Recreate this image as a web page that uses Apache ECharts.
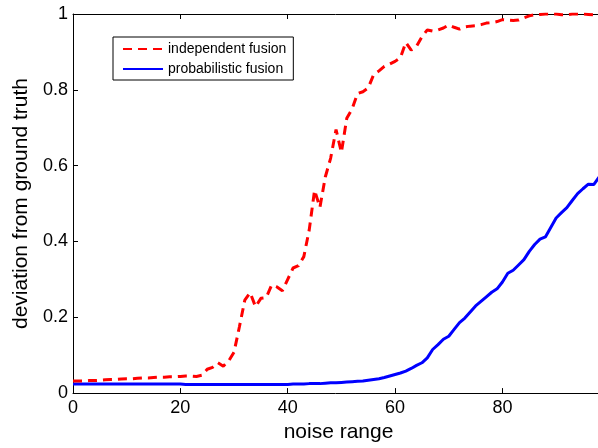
<!DOCTYPE html>
<html>
<head>
<meta charset="utf-8">
<script src="https://cdn.jsdelivr.net/npm/echarts@6/dist/echarts.min.js"></script>
<style>
  html, body { margin: 0; padding: 0; background: #fff; overflow: hidden; }
  #chart { width: 598px; height: 448px; }
</style>
</head>
<body>
<div id="chart"></div>
<script>
// noise range sampled at unit steps
const noiseRange = [
  0, 1, 2, 3, 4, 5, 6, 7, 8, 9, 10, 11, 12, 13, 14, 15, 16, 17, 18, 19,
  20, 21, 22, 23, 24, 25, 26, 27, 28, 29, 30, 31, 32, 33, 34, 35, 36, 37, 38, 39,
  40, 41, 42, 43, 44, 45, 46, 47, 48, 49, 50, 51, 52, 53, 54, 55, 56, 57, 58, 59,
  60, 61, 62, 63, 64, 65, 66, 67, 68, 69, 70, 71, 72, 73, 74, 75, 76, 77, 78, 79,
  80, 81, 82, 83, 84, 85, 86, 87, 88, 89, 90, 91, 92, 93, 94, 95, 96, 97, 98, 99, 100
];

// deviation from ground truth, independent fusion
const independentFusion = [
  0.032, 0.032, 0.032, 0.033, 0.033, 0.034, 0.035, 0.036, 0.036, 0.037,
  0.038, 0.038, 0.039, 0.040, 0.040, 0.041, 0.042, 0.042, 0.043, 0.043,
  0.044, 0.045, 0.045, 0.044, 0.047, 0.063, 0.068, 0.080, 0.071, 0.085,
  0.108, 0.175, 0.245, 0.265, 0.228, 0.250, 0.252, 0.285, 0.280, 0.270,
  0.300, 0.330, 0.336, 0.360, 0.430, 0.535, 0.490, 0.570, 0.620, 0.695,
  0.635, 0.725, 0.750, 0.790, 0.795, 0.805, 0.840, 0.850, 0.862, 0.868,
  0.875, 0.885, 0.925, 0.905, 0.915, 0.940, 0.958, 0.955, 0.958, 0.963,
  0.971, 0.965, 0.960, 0.966, 0.968, 0.969, 0.972, 0.976, 0.977, 0.980,
  0.985, 0.984, 0.983, 0.984, 0.990, 0.995, 0.998, 0.999, 1.000, 1.000,
  1.000, 0.998, 0.998, 1.000, 1.000, 1.000, 0.999, 0.998, 0.998, 0.999, 1.000
];

// deviation from ground truth, probabilistic fusion
const probabilisticFusion = [
  0.024, 0.024, 0.024, 0.024, 0.024, 0.024, 0.024, 0.024, 0.024, 0.024,
  0.024, 0.024, 0.024, 0.024, 0.024, 0.024, 0.024, 0.024, 0.024, 0.024,
  0.024, 0.023, 0.023, 0.023, 0.023, 0.023, 0.023, 0.023, 0.023, 0.023,
  0.023, 0.023, 0.023, 0.023, 0.023, 0.023, 0.023, 0.023, 0.023, 0.023,
  0.023, 0.024, 0.024, 0.024, 0.025, 0.025, 0.025, 0.026, 0.027, 0.027,
  0.028, 0.029, 0.030, 0.031, 0.032, 0.034, 0.036, 0.038, 0.041, 0.045,
  0.049, 0.053, 0.058, 0.065, 0.073, 0.080, 0.093, 0.115, 0.128, 0.142,
  0.150, 0.168, 0.186, 0.198, 0.214, 0.230, 0.242, 0.254, 0.266, 0.275,
  0.293, 0.316, 0.324, 0.338, 0.352, 0.374, 0.392, 0.406, 0.412, 0.437,
  0.462, 0.476, 0.489, 0.508, 0.526, 0.539, 0.551, 0.550, 0.570, 0.590, 0.605
];

const xTicks = [0, 20, 40, 60, 80];
const yTicks = [0, 0.2, 0.4, 0.6, 0.8, 1];
// the axes box is cut at the right edge of the canvas, a little short of 100
const xVisibleMax = 97.8;

const FONT = '"Liberation Sans", Arial, Helvetica, sans-serif';

function pairs(xs, ys) {
  return xs.map((x, i) => [x, ys[i]]);
}

const chart = echarts.init(document.getElementById('chart'), null, { renderer: 'canvas' });

const axisLine = { show: true, onZero: false, lineStyle: { color: '#000', width: 1 } };
const innerTicks = {
  show: true, inside: true, length: 5,
  customValues: xTicks,
  lineStyle: { color: '#000', width: 1 }
};

chart.setOption({
  animation: false,
  backgroundColor: '#fff',
  textStyle: { fontFamily: FONT },
  grid: { left: 73, top: 14, right: 0, bottom: 51, containLabel: false },
  legend: {
    left: 113,
    top: 37,
    orient: 'vertical',
    backgroundColor: '#fff',
    borderColor: '#000',
    borderWidth: 1,
    padding: [5, 7, 4, 9],
    itemWidth: 40,
    itemHeight: 14,
    itemGap: 6,
    // line samples only, no marker in the middle
    itemStyle: { opacity: 0, color: 'rgba(0,0,0,0)', borderWidth: 0 },
    textStyle: { fontFamily: FONT, fontSize: 14, color: '#000' },
    data: ['independent fusion', 'probabilistic fusion']
  },
  xAxis: [
    {
      type: 'value',
      min: 0,
      max: xVisibleMax,
      interval: 20,
      name: 'noise range',
      nameLocation: 'middle',
      nameGap: 25,
      nameTextStyle: { fontFamily: FONT, fontSize: 21, color: '#000', padding: [0, 0, 0, 6] },
      axisLine: axisLine,
      axisTick: innerTicks,
      axisLabel: {
        fontFamily: FONT, fontSize: 18, color: '#000', margin: 6,
        customValues: xTicks
      },
      splitLine: { show: false }
    },
    {
      type: 'value',
      position: 'top',
      min: 0,
      max: xVisibleMax,
      interval: 20,
      axisLine: axisLine,
      axisTick: innerTicks,
      axisLabel: { show: false },
      splitLine: { show: false }
    }
  ],
  yAxis: [
    {
      type: 'value',
      min: yTicks[0],
      max: yTicks[yTicks.length - 1],
      interval: yTicks[1] - yTicks[0],
      name: 'deviation from ground truth',
      nameLocation: 'middle',
      nameGap: 38,
      nameTextStyle: { fontFamily: FONT, fontSize: 21, color: '#000' },
      axisLine: axisLine,
      axisTick: { show: true, inside: true, length: 5, lineStyle: { color: '#000', width: 1 } },
      axisLabel: { fontFamily: FONT, fontSize: 18, color: '#000', margin: 5 },
      splitLine: { show: false }
    }
  ],
  series: [
    {
      name: 'independent fusion',
      type: 'line',
      xAxisIndex: 0,
      yAxisIndex: 0,
      data: pairs(noiseRange, independentFusion),
      symbol: 'none',
      smooth: false,
      color: '#ff0000',
      lineStyle: { color: '#ff0000', width: 3, type: [9, 6] },
      z: 3
    },
    {
      name: 'probabilistic fusion',
      type: 'line',
      xAxisIndex: 0,
      yAxisIndex: 0,
      data: pairs(noiseRange, probabilisticFusion),
      symbol: 'none',
      smooth: false,
      color: '#0000ff',
      lineStyle: { color: '#0000ff', width: 3, type: 'solid' },
      z: 2
    }
  ]
});
</script>
</body>
</html>
